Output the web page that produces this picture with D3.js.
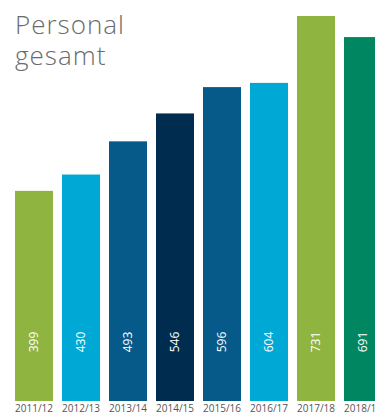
<!DOCTYPE html>
<html>
<head>
<meta charset="utf-8">
<script src="https://cdn.jsdelivr.net/npm/d3@7"></script>
<style>
  body { margin: 0; background: #fff; }
  svg { display: block; font-family: "Open Sans", sans-serif; }
</style>
</head>
<body>
<svg id="chart" width="375" height="417"></svg>
<script>
const years = ['2011/12', '2012/13', '2013/14', '2014/15', '2015/16', '2016/17', '2017/18', '2018/19']
const staff = [399, 430, 493, 546, 596, 604, 731, 691]
const barColors = ['#8fb43f', '#00a8d5', '#055a89', '#002d4f', '#055a89', '#00a8d5', '#8fb43f', '#008660']

const data = years.map((y, i) => ({ year: y, value: staff[i], color: barColors[i] }))

const svg = d3.select('#chart')

const x = d3.scaleBand()
  .domain(years)
  .range([15, 382])
  .paddingInner(9 / 47)
  .paddingOuter(0)

const y = d3.scaleLinear()
  .domain([0, 731])
  .range([401, 16])

svg.append('g')
  .selectAll('rect')
  .data(data)
  .join('rect')
  .attr('x', d => x(d.year))
  .attr('y', d => y(d.value))
  .attr('width', x.bandwidth())
  .attr('height', d => y(0) - y(d.value))
  .attr('fill', d => d.color)

// value labels, rotated inside the bars
svg.append('g')
  .selectAll('text')
  .data(data)
  .join('text')
  .attr('transform', d => `translate(${x(d.year) + x.bandwidth() / 2 + 4}, 342) rotate(-90)`)
  .attr('text-anchor', 'middle')
  .attr('fill', '#fff')
  .style('font-size', '12px')
  .text(d => d.value)

// category axis, no line or ticks
const xAxis = svg.append('g')
  .attr('transform', 'translate(0, 401)')
  .call(d3.axisBottom(x).tickSize(0).tickPadding(4))
xAxis.select('.domain').remove()
xAxis.selectAll('text')
  .attr('fill', '#555')
  .style('font-size', '10px')
  .style('font-family', '"Open Sans", sans-serif')

// title, two lines
svg.selectAll('.title')
  .data(['Personal', 'gesamt'])
  .join('text')
  .attr('class', 'title')
  .attr('x', 15)
  .attr('y', (d, i) => 34 + i * 31)
  .attr('fill', '#6b6b6b')
  .style('font-size', '26px')
  .style('font-weight', 300)
  .style('letter-spacing', '1px')
  .text(d => d)
</script>
</body>
</html>
